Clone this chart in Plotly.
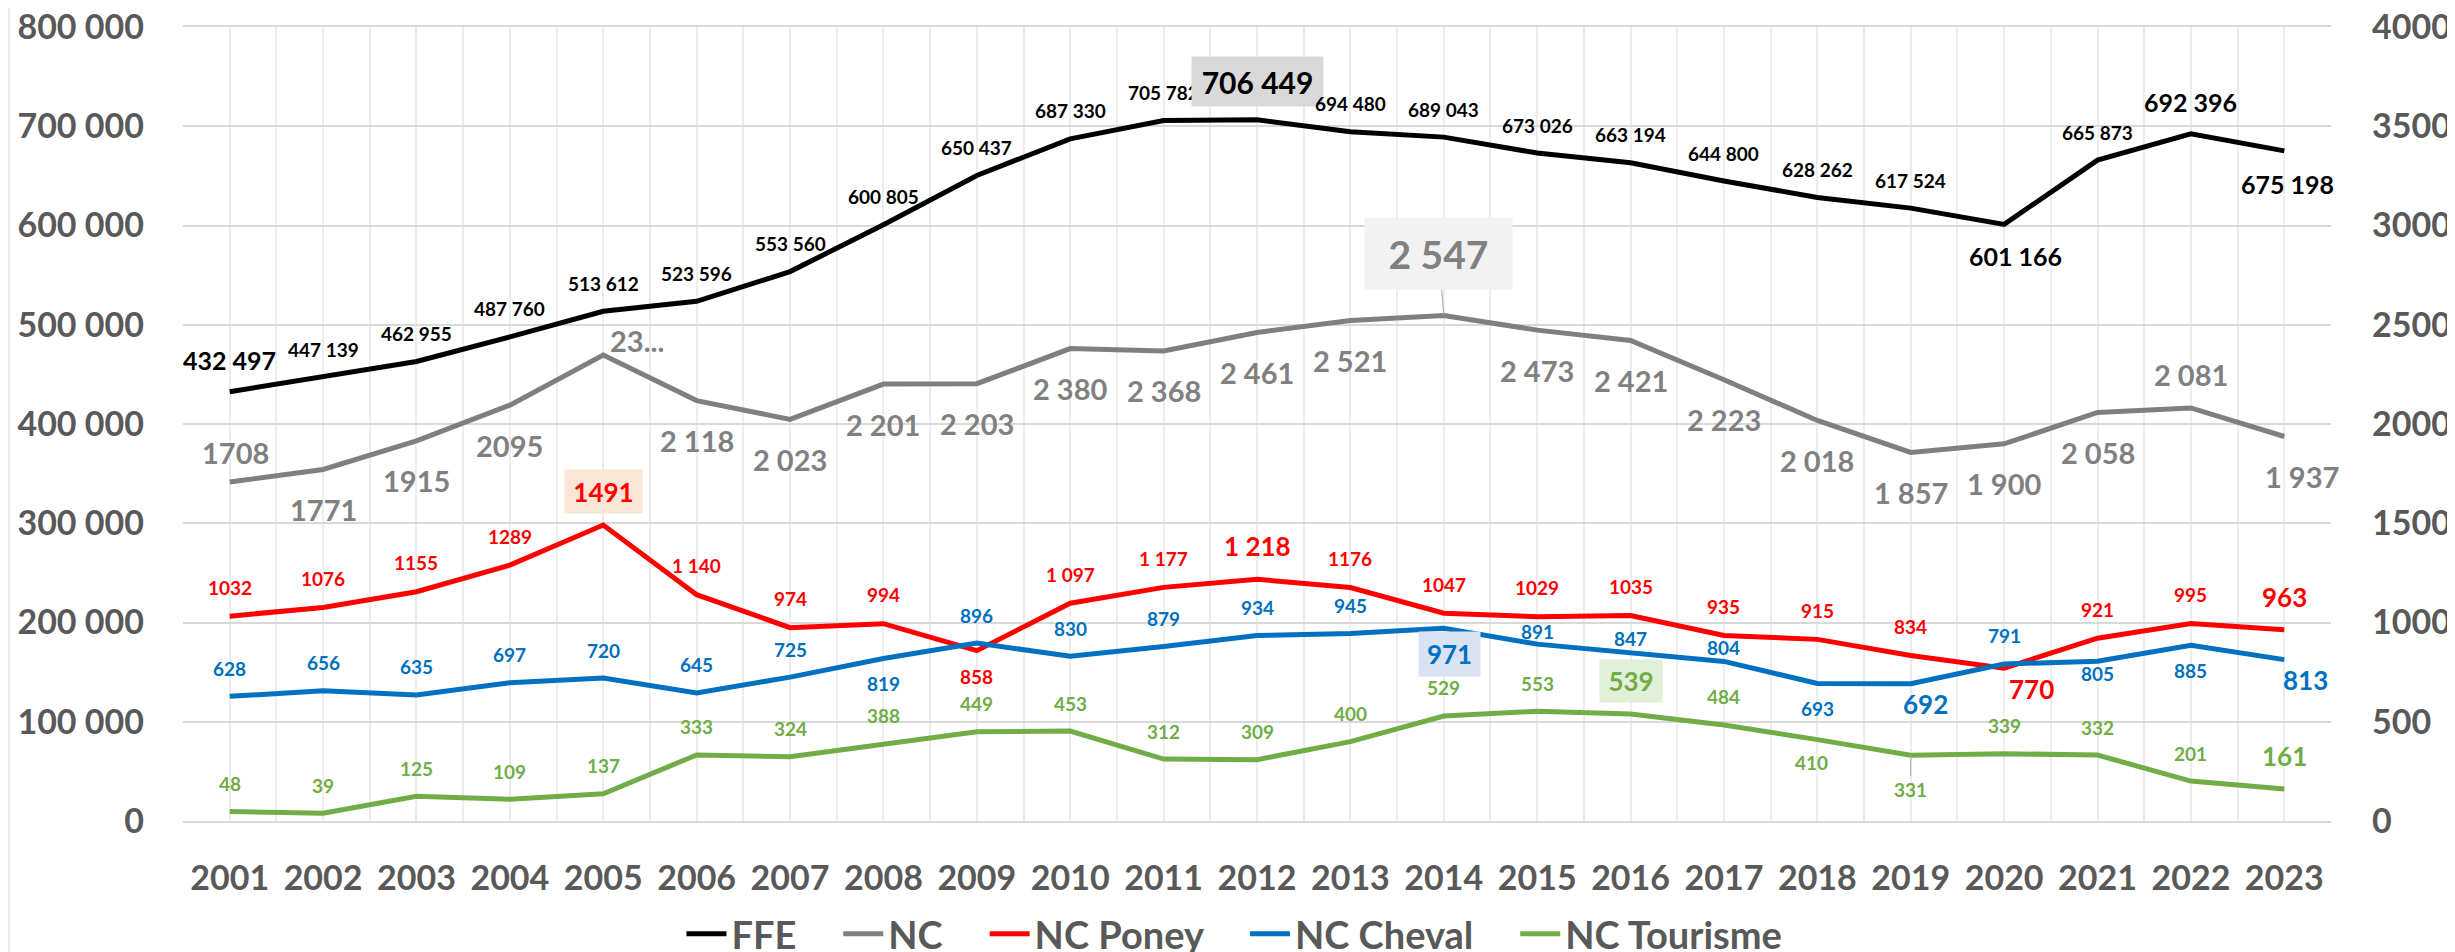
import plotly.graph_objects as go

# ---------------- data ----------------
years = list(range(2001, 2024))
year_labels = [str(y) for y in years]

ffe = [432497, 447139, 462955, 487760, 513612, 523596, 553560, 600805, 650437, 687330,
       705782, 706449, 694480, 689043, 673026, 663194, 644800, 628262, 617524, 601166,
       665873, 692396, 675198]
ffe_labels = ["432 497", "447 139", "462 955", "487 760", "513 612", "523 596", "553 560",
              "600 805", "650 437", "687 330", "705 782", "706 449", "694 480", "689 043",
              "673 026", "663 194", "644 800", "628 262", "617 524", "601 166", "665 873",
              "692 396", "675 198"]

nc = [1708, 1771, 1915, 2095, 2347, 2118, 2023, 2201, 2203, 2380, 2368, 2461, 2521, 2547,
      2473, 2421, 2223, 2018, 1857, 1900, 2058, 2081, 1937]
nc_labels = ["1708", "1771", "1915", "2095", "23...", "2 118", "2 023", "2 201", "2 203",
             "2 380", "2 368", "2 461", "2 521", "2 547", "2 473", "2 421", "2 223", "2 018",
             "1 857", "1 900", "2 058", "2 081", "1 937"]

nc_poney = [1032, 1076, 1155, 1289, 1491, 1140, 974, 994, 858, 1097, 1177, 1218, 1176, 1047,
            1029, 1035, 935, 915, 834, 770, 921, 995, 963]
poney_labels = ["1032", "1076", "1155", "1289", "1491", "1 140", "974", "994", "858", "1 097",
                "1 177", "1 218", "1176", "1047", "1029", "1035", "935", "915", "834", "770",
                "921", "995", "963"]

nc_cheval = [628, 656, 635, 697, 720, 645, 725, 819, 896, 830, 879, 934, 945, 971, 891, 847,
             804, 693, 692, 791, 805, 885, 813]
cheval_labels = [str(v) for v in nc_cheval]

nc_tourisme = [48, 39, 125, 109, 137, 333, 324, 388, 449, 453, 312, 309, 400, 529, 553, 539,
               484, 410, 331, 339, 332, 201, 161]
tourisme_labels = [str(v) for v in nc_tourisme]

left_ticks = [0, 100000, 200000, 300000, 400000, 500000, 600000, 700000, 800000]
left_ticktext = ["0", "100 000", "200 000", "300 000", "400 000", "500 000", "600 000",
                 "700 000", "800 000"]
right_ticks = [0, 500, 1000, 1500, 2000, 2500, 3000, 3500, 4000]
right_ticktext = ["0", "500", "1000", "1500", "2000", "2500", "3000", "3500", "4000"]

# ---------------- style ----------------
FONT = "Lato, 'Open Sans', sans-serif"
AXIS_GRAY = "#595959"
GRID = "#d9d9d9"
LW = 5
LEGEND_PAD = "\u00a0" * 4   # spacing between legend entries

series = [
    dict(name="FFE", vals=ffe, labels=ffe_labels, color="#000000", lblcolor="#000000",
         yaxis="y", yref="y", size=19, dy=28,
         over={2001: dict(size=25, dy=32),
               2012: dict(size=30, dy=38, bg="#d9d9d9", w=131, h=49),
               2020: dict(size=25, dy=-32, dx=11),
               2022: dict(size=25, dy=32),
               2023: dict(size=25, dy=-33, dx=3)}),
    dict(name="NC", vals=nc, labels=nc_labels, color="#7f7f7f", lblcolor="#808080",
         yaxis="y2", yref="y2", size=29, dy=-40,
         over={2001: dict(dy=29, dx=6),
               2005: dict(dy=15, dx=34),
               2014: dict(size=39, bg="#f2f2f2", w=147, h=71, arrow=(-5, -62)),
               2022: dict(dy=33),
               2023: dict(dx=18)}),
    dict(name="NC Poney", vals=nc_poney, labels=poney_labels, color="#ff0000",
         lblcolor="#ff0000", yaxis="y2", yref="y2", size=19, dy=29,
         over={2005: dict(size=26, dy=34, bg="#fbe5d6", w=77, h=43),
               2009: dict(dy=-26),
               2012: dict(size=26, dy=33),
               2020: dict(size=26, dx=27, dy=-21),
               2023: dict(size=26, dy=33)}),
    dict(name="NC Cheval", vals=nc_cheval, labels=cheval_labels, color="#0070c0",
         lblcolor="#0070c0", yaxis="y2", yref="y2", size=19, dy=28,
         over={2008: dict(dy=-25),
               2014: dict(size=26, dy=-26, dx=6, bg="#dae3f3", w=61, h=44),
               2015: dict(dy=13),
               2016: dict(dy=14),
               2017: dict(dy=14),
               2018: dict(dy=-25),
               2019: dict(size=26, dx=15, dy=-20),
               2021: dict(dy=-12),
               2022: dict(dy=-25),
               2023: dict(size=26, dx=21, dy=-20)}),
    dict(name="NC Tourisme", vals=nc_tourisme, labels=tourisme_labels, color="#70ad47",
         lblcolor="#70ad47", yaxis="y2", yref="y2", size=19, dy=28,
         over={2016: dict(size=26, dy=33, bg="#e2f0d9", w=62, h=42),
               2018: dict(dy=-23, dx=-6),
               2019: dict(arrow=(0, 34)),
               2023: dict(size=26, dy=33)}),
]

fig = go.Figure()
annotations = []
for k, s in enumerate(series):
    legend_name = s["name"] + (LEGEND_PAD if k < len(series) - 1 else "")
    fig.add_trace(go.Scatter(
        x=years, y=s["vals"], name=legend_name, mode="lines", yaxis=s["yaxis"],
        line=dict(color=s["color"], width=LW), hoverinfo="skip"))
    for yr, v, lab in zip(years, s["vals"], s["labels"]):
        o = s["over"].get(yr, {})
        ann = dict(x=yr, y=v, xref="x", yref=s["yref"], text=lab, showarrow=False,
                   font=dict(family=FONT, size=o.get("size", s["size"]),
                             color=s["lblcolor"], weight="bold"),
                   xshift=o.get("dx", 0), yshift=o.get("dy", s["dy"]))
        if "bg" in o:
            ann.update(bgcolor=o["bg"], width=o["w"], height=o["h"], borderpad=0)
        if "arrow" in o:
            ax, ay = o["arrow"]
            ann.update(showarrow=True, ax=ax, ay=ay, arrowhead=0, arrowwidth=1,
                       arrowcolor="#a6a6a6", standoff=0, xshift=0, yshift=0)
        annotations.append(ann)

tickfont = dict(family=FONT, size=34, color=AXIS_GRAY, weight="bold")

fig.update_layout(
    width=2455, height=952, autosize=False,
    margin=dict(l=175, r=132, t=19, b=139, autoexpand=False),
    paper_bgcolor="white", plot_bgcolor="white",
    font=dict(family=FONT, color=AXIS_GRAY),
    showlegend=True,
    legend=dict(orientation="h", x=0.4895, xanchor="center", y=-0.1423, yanchor="middle",
                font=dict(family=FONT, size=38, color=AXIS_GRAY, weight="bold"),
                itemwidth=40, traceorder="normal", bgcolor="rgba(0,0,0,0)"),
    xaxis=dict(range=[2000.5, 2023.5], tickvals=years, ticktext=year_labels,
               tickfont=tickfont, showgrid=True, gridcolor="#ededed", gridwidth=2,
               zeroline=False, showline=True, mirror=True, linecolor=GRID, linewidth=2,
               ticks="", ticklabelstandoff=26, ticklabeloverflow="allow",
               minor=dict(tick0=2000.5, dtick=1, showgrid=True, gridcolor="#ededed",
                          gridwidth=2, ticks="")),
    yaxis=dict(range=[0, 800000], tickvals=left_ticks, ticktext=left_ticktext,
               tickfont=tickfont, showgrid=True, gridcolor=GRID, gridwidth=2,
               zeroline=False, showline=False, ticks="", ticklabelstandoff=38,
               ticklabeloverflow="allow"),
    yaxis2=dict(range=[0, 4000], tickvals=right_ticks, ticktext=right_ticktext,
                tickfont=tickfont, overlaying="y", side="right", showgrid=False,
                zeroline=False, showline=False, ticks="", ticklabelstandoff=40,
                ticklabeloverflow="allow"),
    annotations=annotations,
    shapes=[
        dict(type="line", xref="paper", yref="paper", x0=-0.081, x1=-0.081,
             y0=-0.2, y1=1.1, line=dict(color="#d9d9d9", width=1)),
        dict(type="line", xref="paper", yref="paper", x0=1.0568, x1=1.0568,
             y0=-0.2, y1=1.1, line=dict(color="#d9d9d9", width=1)),
    ],
)

fig.write_html("out.html")
